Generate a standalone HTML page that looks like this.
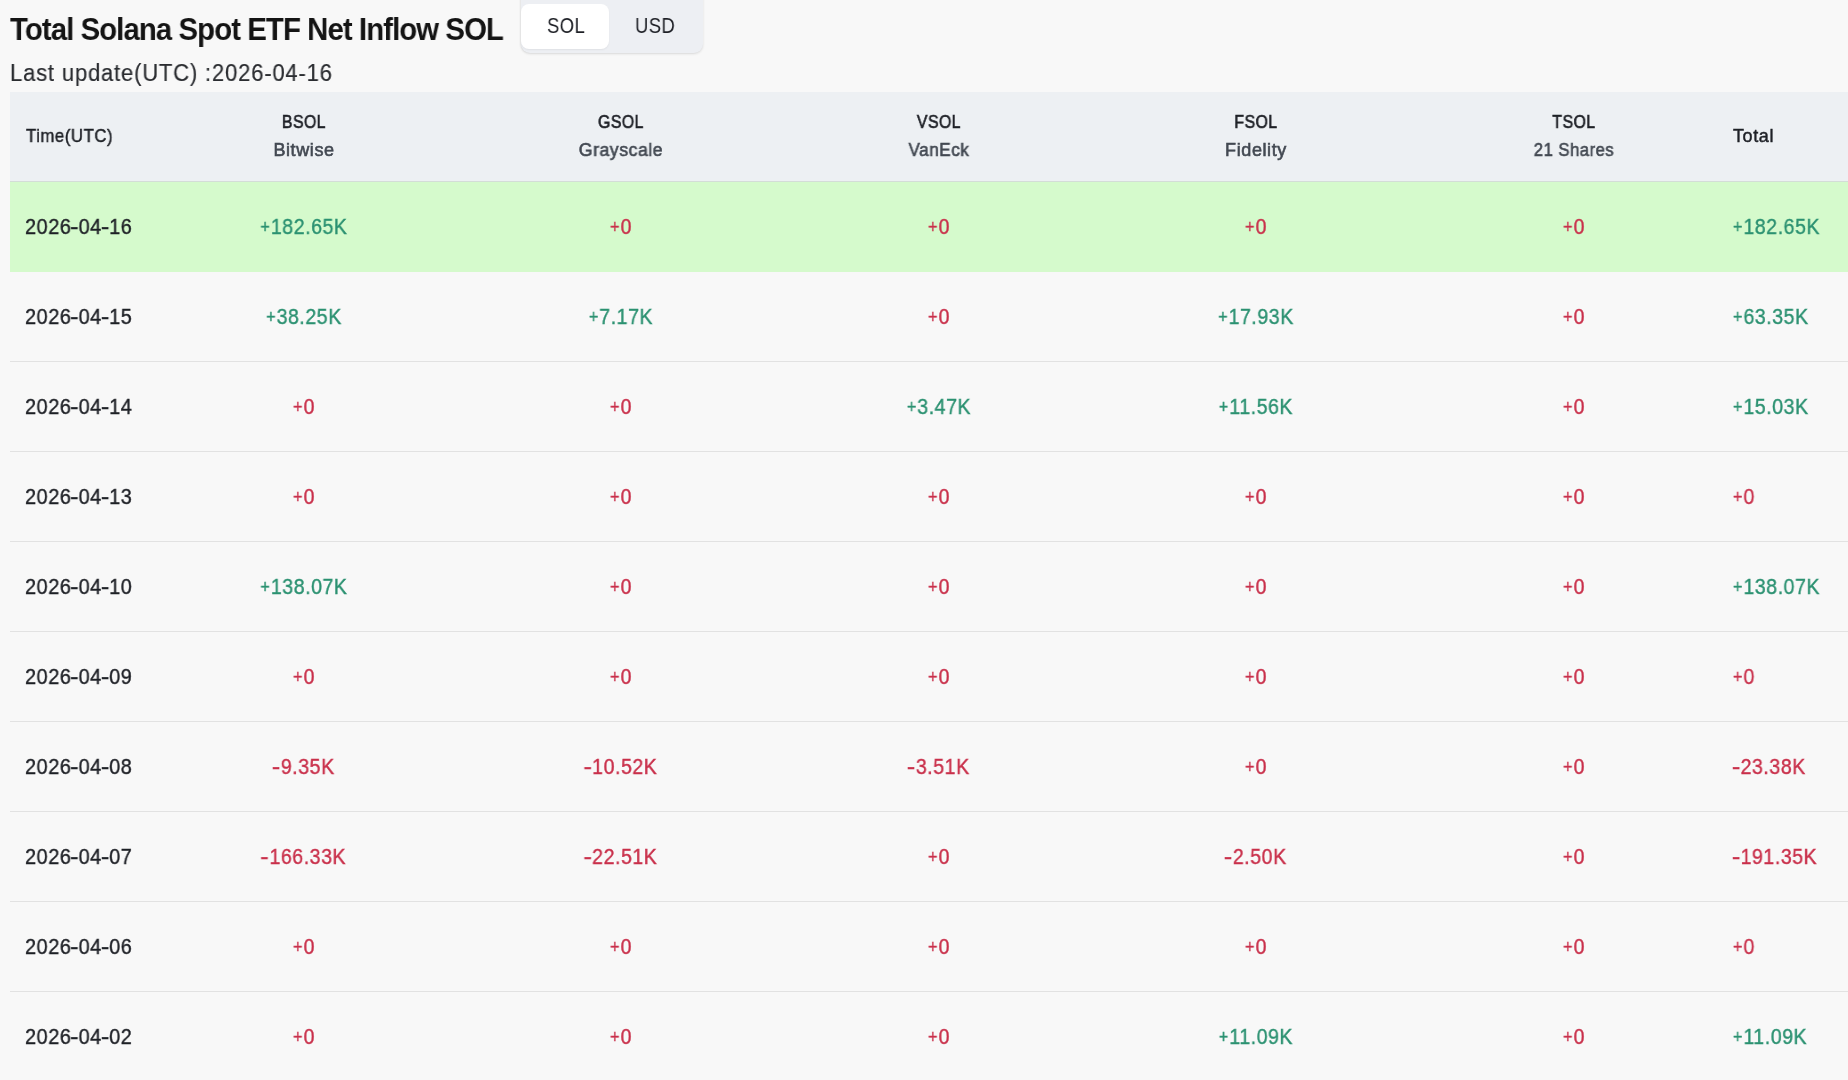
<!DOCTYPE html>
<html><head><meta charset="utf-8">
<style>
html,body{margin:0;padding:0;background:#f8f8f8;width:1848px;height:1080px;overflow:hidden;font-family:"Liberation Sans",sans-serif;position:relative;}
.title{position:absolute;left:10px;top:11px;font-size:32px;line-height:36px;font-weight:bold;color:#141414;white-space:nowrap;letter-spacing:-1px;transform:scaleX(0.917);transform-origin:0 0;}
.upd{position:absolute;left:10px;top:60px;font-size:23.5px;line-height:26px;color:#2a2c30;white-space:nowrap;letter-spacing:0.9px;transform:scaleX(0.935);-webkit-text-stroke:0.2px currentColor;transform-origin:0 0;}
.tog{position:absolute;left:521px;top:-10px;width:182px;height:63px;background:#edeff3;border-radius:9px;box-shadow:0 1px 2.5px rgba(0,0,0,0.12),-1px 0 2px rgba(0,0,0,0.04);}
.tog .on{position:absolute;left:0px;top:13.5px;width:88px;height:45.5px;background:#fff;border-radius:8px;box-shadow:0 1px 2px rgba(0,0,0,0.06)}
.tog span{position:absolute;top:24px;font-size:21.5px;line-height:24px;color:#1e2026;letter-spacing:0.5px;transform:scaleX(0.86);transform-origin:0 0}
.tog .t1{left:26px}.tog .t2{left:114px}
.hdr{position:absolute;left:10px;top:92px;width:1838px;height:89px;background:#edf0f3;border-bottom:1px solid #d3ddd7;}
.row{position:absolute;left:10px;width:1838px;height:89px;border-bottom:1px solid #e2e2e2;}
.row.hi{background:#d5facc;border-bottom-color:#d5facc}
.c{position:absolute;white-space:nowrap;font-size:22px;line-height:24px;-webkit-text-stroke:0.4px currentColor;letter-spacing:0.6px;transform:scaleX(0.89);transform-origin:0 50%;}
.cc{text-align:center;transform-origin:50% 50%}
.p{font-size:18px;position:relative;top:-1px;margin-right:0.5px}
.c.d{transform:scaleX(0.905)}
.h{display:inline-block;transform:scaleX(1.3)}
.m{margin-right:1px;margin-left:-0.5px}
.hc{position:absolute;white-space:nowrap;font-size:18px;line-height:20px;letter-spacing:0.6px;font-weight:normal;-webkit-text-stroke:0.65px currentColor;color:#1e2026;transform-origin:0 50%;}
.hc.cc2{text-align:center;transform-origin:50% 50%}
.hc.lt{-webkit-text-stroke:0.45px currentColor}
.hc.s{color:#434952;-webkit-text-stroke:0.6px currentColor;}
.title,.upd,.tog span,.c,.hc{will-change:transform}
.g{color:#2b9171}.r{color:#c9304b}.d{color:#1e2026}
</style></head><body>
<div class="title">Total Solana Spot ETF Net Inflow SOL</div>
<div class="tog"><div class="on"></div><span class="t1">SOL</span><span class="t2">USD</span></div>
<div class="upd">Last update(UTC) :2026-04-16</div>
<div class="hdr"></div>
<div class="hc lt" style="left:25.7px;top:126px;transform:scaleX(0.93)">Time(UTC)</div>
<div class="hc cc2" style="left:203.8px;top:112px;width:200px;transform:scaleX(0.875)">BSOL</div>
<div class="hc cc2 s" style="left:203.8px;top:140px;width:200px;transform:scaleX(1.0)">Bitwise</div>
<div class="hc cc2" style="left:521.3px;top:112px;width:200px;transform:scaleX(0.875)">GSOL</div>
<div class="hc cc2 s" style="left:521.3px;top:140px;width:200px;transform:scaleX(0.976)">Grayscale</div>
<div class="hc cc2" style="left:838.8px;top:112px;width:200px;transform:scaleX(0.875)">VSOL</div>
<div class="hc cc2 s" style="left:838.8px;top:140px;width:200px;transform:scaleX(0.945)">VanEck</div>
<div class="hc cc2" style="left:1156.3px;top:112px;width:200px;transform:scaleX(0.875)">FSOL</div>
<div class="hc cc2 s" style="left:1156.3px;top:140px;width:200px;transform:scaleX(1.0)">Fidelity</div>
<div class="hc cc2" style="left:1473.8px;top:112px;width:200px;transform:scaleX(0.875)">TSOL</div>
<div class="hc cc2 s" style="left:1473.8px;top:140px;width:200px;transform:scaleX(0.92)">21 Shares</div>
<div class="hc lt" style="left:1732.7px;top:126px">Total</div>
<div class="row hi" style="top:182px"></div>
<div class="c d" style="left:25px;top:215px">2026<span class=h>-</span>04<span class=h>-</span>16</div>
<div class="c cc g" style="left:203.60000000000002px;top:215px;width:200px"><span class="p">+</span>182.65K</div>
<div class="c cc r" style="left:521.1px;top:215px;width:200px"><span class="p">+</span>0</div>
<div class="c cc r" style="left:838.6px;top:215px;width:200px"><span class="p">+</span>0</div>
<div class="c cc r" style="left:1156.1px;top:215px;width:200px"><span class="p">+</span>0</div>
<div class="c cc r" style="left:1473.6px;top:215px;width:200px"><span class="p">+</span>0</div>
<div class="c tot g" style="left:1732.7px;top:215px"><span class="p">+</span>182.65K</div>
<div class="row" style="top:272px"></div>
<div class="c d" style="left:25px;top:305px">2026<span class=h>-</span>04<span class=h>-</span>15</div>
<div class="c cc g" style="left:203.60000000000002px;top:305px;width:200px"><span class="p">+</span>38.25K</div>
<div class="c cc g" style="left:521.1px;top:305px;width:200px"><span class="p">+</span>7.17K</div>
<div class="c cc r" style="left:838.6px;top:305px;width:200px"><span class="p">+</span>0</div>
<div class="c cc g" style="left:1156.1px;top:305px;width:200px"><span class="p">+</span>17.93K</div>
<div class="c cc r" style="left:1473.6px;top:305px;width:200px"><span class="p">+</span>0</div>
<div class="c tot g" style="left:1732.7px;top:305px"><span class="p">+</span>63.35K</div>
<div class="row" style="top:362px"></div>
<div class="c d" style="left:25px;top:395px">2026<span class=h>-</span>04<span class=h>-</span>14</div>
<div class="c cc r" style="left:203.60000000000002px;top:395px;width:200px"><span class="p">+</span>0</div>
<div class="c cc r" style="left:521.1px;top:395px;width:200px"><span class="p">+</span>0</div>
<div class="c cc g" style="left:838.6px;top:395px;width:200px"><span class="p">+</span>3.47K</div>
<div class="c cc g" style="left:1156.1px;top:395px;width:200px"><span class="p">+</span>11.56K</div>
<div class="c cc r" style="left:1473.6px;top:395px;width:200px"><span class="p">+</span>0</div>
<div class="c tot g" style="left:1732.7px;top:395px"><span class="p">+</span>15.03K</div>
<div class="row" style="top:452px"></div>
<div class="c d" style="left:25px;top:485px">2026<span class=h>-</span>04<span class=h>-</span>13</div>
<div class="c cc r" style="left:203.60000000000002px;top:485px;width:200px"><span class="p">+</span>0</div>
<div class="c cc r" style="left:521.1px;top:485px;width:200px"><span class="p">+</span>0</div>
<div class="c cc r" style="left:838.6px;top:485px;width:200px"><span class="p">+</span>0</div>
<div class="c cc r" style="left:1156.1px;top:485px;width:200px"><span class="p">+</span>0</div>
<div class="c cc r" style="left:1473.6px;top:485px;width:200px"><span class="p">+</span>0</div>
<div class="c tot r" style="left:1732.7px;top:485px"><span class="p">+</span>0</div>
<div class="row" style="top:542px"></div>
<div class="c d" style="left:25px;top:575px">2026<span class=h>-</span>04<span class=h>-</span>10</div>
<div class="c cc g" style="left:203.60000000000002px;top:575px;width:200px"><span class="p">+</span>138.07K</div>
<div class="c cc r" style="left:521.1px;top:575px;width:200px"><span class="p">+</span>0</div>
<div class="c cc r" style="left:838.6px;top:575px;width:200px"><span class="p">+</span>0</div>
<div class="c cc r" style="left:1156.1px;top:575px;width:200px"><span class="p">+</span>0</div>
<div class="c cc r" style="left:1473.6px;top:575px;width:200px"><span class="p">+</span>0</div>
<div class="c tot g" style="left:1732.7px;top:575px"><span class="p">+</span>138.07K</div>
<div class="row" style="top:632px"></div>
<div class="c d" style="left:25px;top:665px">2026<span class=h>-</span>04<span class=h>-</span>09</div>
<div class="c cc r" style="left:203.60000000000002px;top:665px;width:200px"><span class="p">+</span>0</div>
<div class="c cc r" style="left:521.1px;top:665px;width:200px"><span class="p">+</span>0</div>
<div class="c cc r" style="left:838.6px;top:665px;width:200px"><span class="p">+</span>0</div>
<div class="c cc r" style="left:1156.1px;top:665px;width:200px"><span class="p">+</span>0</div>
<div class="c cc r" style="left:1473.6px;top:665px;width:200px"><span class="p">+</span>0</div>
<div class="c tot r" style="left:1732.7px;top:665px"><span class="p">+</span>0</div>
<div class="row" style="top:722px"></div>
<div class="c d" style="left:25px;top:755px">2026<span class=h>-</span>04<span class=h>-</span>08</div>
<div class="c cc r" style="left:203.60000000000002px;top:755px;width:200px"><span class="h m">-</span>9.35K</div>
<div class="c cc r" style="left:521.1px;top:755px;width:200px"><span class="h m">-</span>10.52K</div>
<div class="c cc r" style="left:838.6px;top:755px;width:200px"><span class="h m">-</span>3.51K</div>
<div class="c cc r" style="left:1156.1px;top:755px;width:200px"><span class="p">+</span>0</div>
<div class="c cc r" style="left:1473.6px;top:755px;width:200px"><span class="p">+</span>0</div>
<div class="c tot r" style="left:1732.7px;top:755px"><span class="h m">-</span>23.38K</div>
<div class="row" style="top:812px"></div>
<div class="c d" style="left:25px;top:845px">2026<span class=h>-</span>04<span class=h>-</span>07</div>
<div class="c cc r" style="left:203.60000000000002px;top:845px;width:200px"><span class="h m">-</span>166.33K</div>
<div class="c cc r" style="left:521.1px;top:845px;width:200px"><span class="h m">-</span>22.51K</div>
<div class="c cc r" style="left:838.6px;top:845px;width:200px"><span class="p">+</span>0</div>
<div class="c cc r" style="left:1156.1px;top:845px;width:200px"><span class="h m">-</span>2.50K</div>
<div class="c cc r" style="left:1473.6px;top:845px;width:200px"><span class="p">+</span>0</div>
<div class="c tot r" style="left:1732.7px;top:845px"><span class="h m">-</span>191.35K</div>
<div class="row" style="top:902px"></div>
<div class="c d" style="left:25px;top:935px">2026<span class=h>-</span>04<span class=h>-</span>06</div>
<div class="c cc r" style="left:203.60000000000002px;top:935px;width:200px"><span class="p">+</span>0</div>
<div class="c cc r" style="left:521.1px;top:935px;width:200px"><span class="p">+</span>0</div>
<div class="c cc r" style="left:838.6px;top:935px;width:200px"><span class="p">+</span>0</div>
<div class="c cc r" style="left:1156.1px;top:935px;width:200px"><span class="p">+</span>0</div>
<div class="c cc r" style="left:1473.6px;top:935px;width:200px"><span class="p">+</span>0</div>
<div class="c tot r" style="left:1732.7px;top:935px"><span class="p">+</span>0</div>
<div class="row" style="top:992px"></div>
<div class="c d" style="left:25px;top:1025px">2026<span class=h>-</span>04<span class=h>-</span>02</div>
<div class="c cc r" style="left:203.60000000000002px;top:1025px;width:200px"><span class="p">+</span>0</div>
<div class="c cc r" style="left:521.1px;top:1025px;width:200px"><span class="p">+</span>0</div>
<div class="c cc r" style="left:838.6px;top:1025px;width:200px"><span class="p">+</span>0</div>
<div class="c cc g" style="left:1156.1px;top:1025px;width:200px"><span class="p">+</span>11.09K</div>
<div class="c cc r" style="left:1473.6px;top:1025px;width:200px"><span class="p">+</span>0</div>
<div class="c tot g" style="left:1732.7px;top:1025px"><span class="p">+</span>11.09K</div>
</body></html>
